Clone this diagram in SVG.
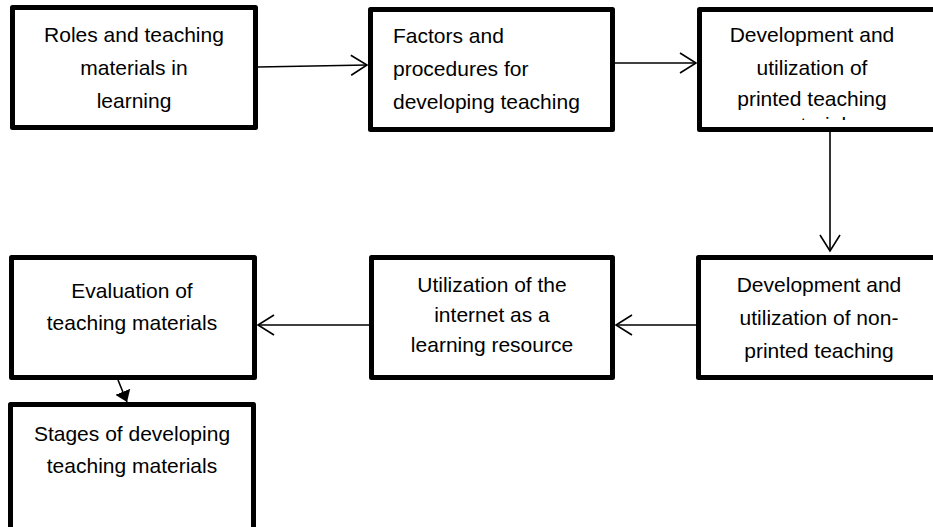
<svg xmlns="http://www.w3.org/2000/svg" width="933" height="527" viewBox="0 0 933 527">
<style>
.box{fill:#fff;stroke:#000;stroke-width:5;stroke-linejoin:round}
.t{font-family:"Liberation Sans",Arial,sans-serif;font-size:21px;fill:#000;text-anchor:middle}
.tl{text-anchor:start}
.c{stroke:#000;stroke-width:1.6;fill:none}
</style>
<defs>
<marker id="open" markerUnits="userSpaceOnUse" markerWidth="20" markerHeight="22" refX="17" refY="11" orient="auto" viewBox="0 0 20 22">
<path d="M1,1 L17,11 L1,21" fill="none" stroke="#000" stroke-width="1.6"/>
</marker>
<marker id="solid" markerUnits="userSpaceOnUse" markerWidth="12" markerHeight="16" refX="11" refY="8" orient="auto" viewBox="0 0 12 16">
<path d="M0,0 L11,8 L0,16 Z" fill="#000"/>
</marker>
<clipPath id="clip3"><rect x="700" y="10" width="240" height="110"/></clipPath>
</defs>
<rect width="933" height="527" fill="#fff"/>
<g id="n1">
<rect class="box" x="12.5" y="7.5" width="243" height="120"/>
<text class="t" x="134" y="42">Roles and teaching</text>
<text class="t" x="134" y="75">materials in</text>
<text class="t" x="134" y="108">learning</text>
</g>
<g id="n2">
<rect class="box" x="370.5" y="9.5" width="242" height="120"/>
<text class="t tl" x="393" y="43">Factors and</text>
<text class="t tl" x="393" y="76">procedures for</text>
<text class="t tl" x="393" y="109">developing teaching</text>
</g>
<g id="n3">
<rect class="box" x="699.5" y="9.5" width="250" height="120"/>
<g clip-path="url(#clip3)">
<text class="t" x="812" y="42">Development and</text>
<text class="t" x="812" y="75">utilization of</text>
<text class="t" x="812" y="106">printed teaching</text>
<text class="t" x="814" y="132">materials</text>
</g>
</g>
<g id="n4">
<rect class="box" x="698.5" y="257.5" width="250" height="120"/>
<text class="t" x="819" y="292">Development and</text>
<text class="t" x="819" y="325">utilization of non-</text>
<text class="t" x="819" y="358">printed teaching</text>
</g>
<g id="n5">
<rect class="box" x="371.5" y="257.5" width="241" height="120"/>
<text class="t" x="492" y="292">Utilization of the</text>
<text class="t" x="492" y="322">internet as a</text>
<text class="t" x="492" y="352">learning resource</text>
</g>
<g id="n6">
<rect class="box" x="11.5" y="257.5" width="243" height="120"/>
<text class="t" x="132" y="298">Evaluation of</text>
<text class="t" x="132" y="330">teaching materials</text>
</g>
<g id="n7">
<rect class="box" x="10.5" y="404.5" width="243" height="130"/>
<text class="t" x="132" y="441">Stages of developing</text>
<text class="t" x="132" y="473">teaching materials</text>
</g>
<g id="connectors">
<line class="c" x1="258" y1="67" x2="367" y2="65" marker-end="url(#open)"/>
<line class="c" x1="615" y1="63" x2="696" y2="63" marker-end="url(#open)"/>
<line class="c" x1="830" y1="132" x2="830" y2="251" marker-end="url(#open)"/>
<line class="c" x1="696" y1="325" x2="616" y2="325" marker-end="url(#open)"/>
<line class="c" x1="369" y1="325" x2="258" y2="325" marker-end="url(#open)"/>
<line class="c" x1="118" y1="380" x2="127" y2="402" marker-end="url(#solid)"/>
</g>
</svg>
